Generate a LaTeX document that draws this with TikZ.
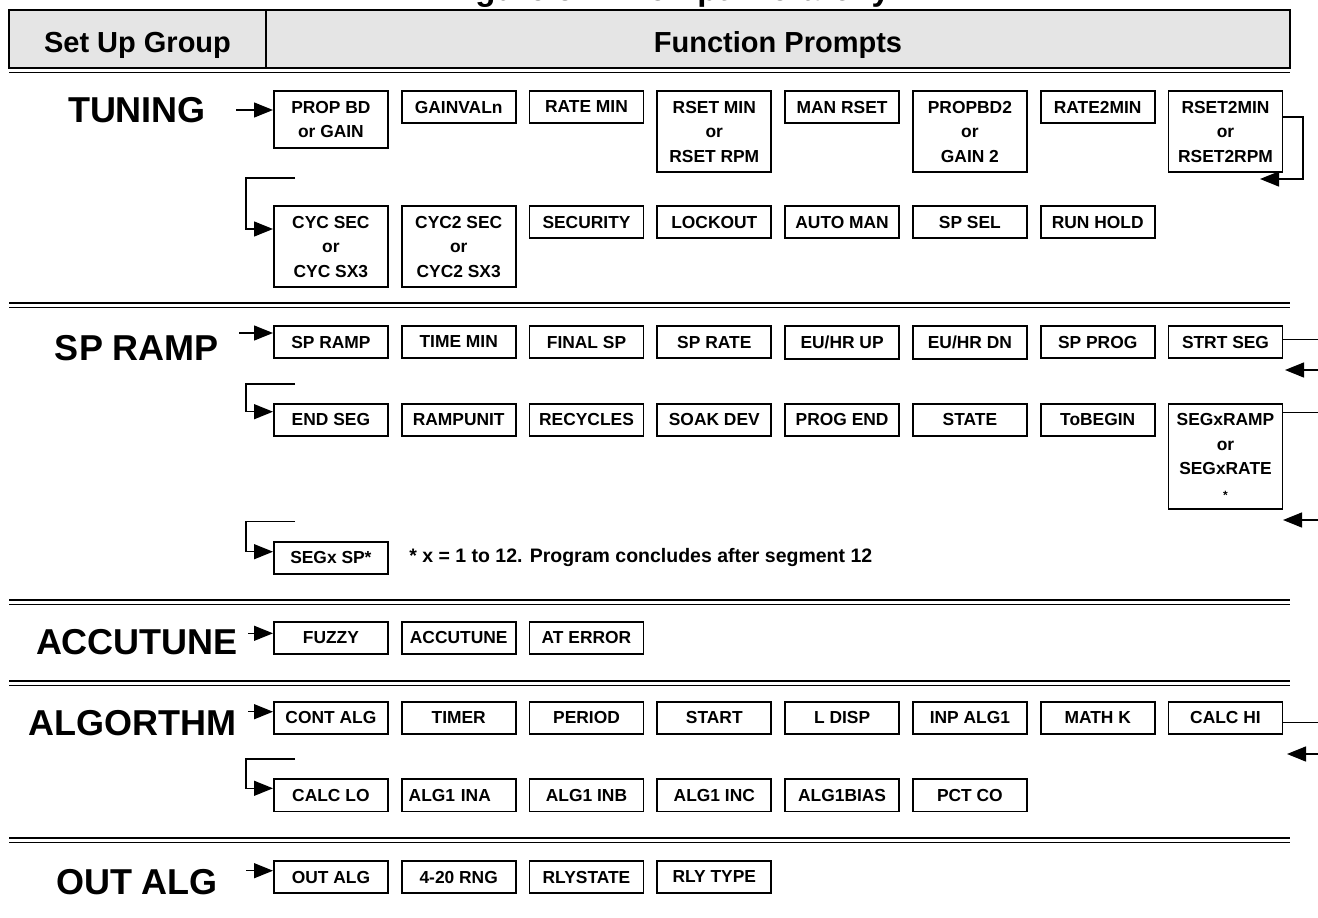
\documentclass[tikz,border=0pt]{standalone}
\usepackage{fontspec}
\setmainfont{Liberation Sans}
\usetikzlibrary{arrows.meta, positioning}
\newcommand{\promptfont}{\fontsize{17.4}{24.5}\selectfont\bfseries}
\newcommand{\groupfont}{\fontsize{36}{40}\selectfont\bfseries}
\newcommand{\headfont}{\fontsize{29}{32}\selectfont\bfseries}
\newcommand{\notefont}{\fontsize{19.5}{22}\selectfont\bfseries}
\newcommand{\titlefont}{\fontsize{33}{36}\selectfont\bfseries}
\tikzstyle{prompt} = [draw, line width=1.8pt, minimum width=114pt, minimum height=32pt, inner ysep=10pt, inner xsep=2pt, align=center, font=\promptfont]
\tikzstyle{group} = [font=\groupfont, inner sep=0pt]
\tikzstyle{headcell} = [draw, line width=1.8pt, fill=gray!20, minimum height=58pt, outer sep=0pt, text height=26pt, text depth=0pt, font=\headfont, anchor=north west]
\tikzstyle{flow} = [line width=1.3pt, -{Triangle[length=19pt,width=15pt]}]
\tikzstyle{wire} = [line width=1.3pt]
\tikzset{nextto/.style={right=12pt of #1.north east, anchor=north west}}
\newcommand{\sepline}[1]{%
  \draw [line width=2.2pt] (9,#1) -- (1290,#1);
  \draw [line width=1.3pt] (9,#1+4.5) -- (1290,#1+4.5);}

\begin{document}
\begin{tikzpicture}[x=1pt, y=-1pt]
    \useasboundingbox (0,0) rectangle (1318,918);
    \clip (0,0) rectangle (1318,918);
    \node [anchor=base, font=\titlefont] (title) at (668,0.5) {Figure 5-1 Prompt Hierarchy};
    % header
    \node [headcell, minimum width=257pt] (setup) at (9,10) {Set Up Group};
    \node [headcell, minimum width=1024pt] (prompts) at (setup.north east) {Function Prompts};
    \sepline{68}
    % TUNING
    \node [group] (tuning) at (137,110) {TUNING};
    \node [prompt, anchor=north west] (propbd) at (273,90) {PROP BD\\or GAIN};
    \node [prompt, nextto=propbd] (gainval) {GAINVALn};
    \node [prompt, nextto=gainval] (ratemin) {RATE MIN};
    \node [prompt, nextto=ratemin] (rsetmin) {RSET MIN\\or\\RSET RPM};
    \node [prompt, nextto=rsetmin] (manrset) {MAN RSET};
    \node [prompt, nextto=manrset] (propbd2) {PROPBD2\\or\\GAIN 2};
    \node [prompt, nextto=propbd2] (rate2min) {RATE2MIN};
    \node [prompt, nextto=rate2min] (rset2min) {RSET2MIN\\or\\RSET2RPM};
    \node [prompt, anchor=north west] (cycsec) at (273,205) {CYC SEC\\or\\CYC SX3};
    \node [prompt, nextto=cycsec] (cyc2sec) {CYC2 SEC\\or\\CYC2 SX3};
    \node [prompt, nextto=cyc2sec] (security) {SECURITY};
    \node [prompt, nextto=security] (lockout) {LOCKOUT};
    \node [prompt, nextto=lockout] (automan) {AUTO MAN};
    \node [prompt, nextto=automan] (spsel) {SP SEL};
    \node [prompt, nextto=spsel] (runhold) {RUN HOLD};
    \coordinate (tunin) at (236,110);
    \coordinate (tunr) at (1303,117);
    \coordinate (tunb) at (1260,179);
    \coordinate (tunl) at (295,178);
    \coordinate (tunc) at (246,229);
    \draw [flow] (tunin) -- (propbd.west |- tunin);
    \draw [flow] (rset2min.east |- tunr) -- (tunr) |- (tunb);
    \draw [flow] (tunl) -| (tunc) -- (cycsec.west |- tunc);
    \sepline{303.3}
    % SP RAMP
    \node [group] (spr) at (137,348) {SP RAMP};
    \node [prompt, anchor=north west] (spramp) at (273,325) {SP RAMP};
    \node [prompt, nextto=spramp] (timemin) {TIME MIN};
    \node [prompt, nextto=timemin] (finalsp) {FINAL SP};
    \node [prompt, nextto=finalsp] (sprate) {SP RATE};
    \node [prompt, nextto=sprate] (euhrup) {EU/HR UP};
    \node [prompt, nextto=euhrup] (euhrdn) {EU/HR DN};
    \node [prompt, nextto=euhrdn] (spprog) {SP PROG};
    \node [prompt, nextto=spprog] (strtseg) {STRT SEG};
    \node [prompt, anchor=north west] (endseg) at (273,402.7) {END SEG};
    \node [prompt, nextto=endseg] (rampunit) {RAMPUNIT};
    \node [prompt, nextto=rampunit] (recycles) {RECYCLES};
    \node [prompt, nextto=recycles] (soakdev) {SOAK DEV};
    \node [prompt, nextto=soakdev] (progend) {PROG END};
    \node [prompt, nextto=progend] (state) {STATE};
    \node [prompt, nextto=state] (tobegin) {ToBEGIN};
    \node [prompt, nextto=tobegin] (segxramp) {SEGxRAMP\\or\\SEGxRATE\\{\fontsize{12}{24.5}\selectfont *}};
    \node [prompt, anchor=north west] (segxsp) at (273,540.7) {SEGx SP*};
    \node [font=\notefont, right=17pt of segxsp] (footnote) {* x = 1 to 12. Program concludes after segment 12};
    \coordinate (spin) at (239,333);
    \coordinate (spr1) at (1318,339.3);
    \coordinate (spr2) at (1318,370);
    \coordinate (spr3) at (1285,370);
    \coordinate (spl1) at (295,384);
    \coordinate (spl2) at (246,411.7);
    \coordinate (spr4) at (1318,412.7);
    \coordinate (spr5) at (1318,520);
    \coordinate (spr6) at (1283,520);
    \coordinate (spl3) at (295,521.7);
    \coordinate (spl4) at (246,551.7);
    \draw [flow] (spin) -- (spramp.west |- spin);
    \draw [wire] (strtseg.east |- spr1) -- (spr1);
    \draw [flow] (spr2) -- (spr3);
    \draw [flow] (spl1) -| (spl2) -- (endseg.west |- spl2);
    \draw [wire] (segxramp.east |- spr4) -- (spr4);
    \draw [flow] (spr5) -- (spr6);
    \draw [flow] (spl3) -| (spl4) -- (segxsp.west |- spl4);
    \sepline{600}
    % ACCUTUNE
    \node [group] (acc) at (137,642) {ACCUTUNE};
    \node [prompt, anchor=north west] (fuzzy) at (273,620.7) {FUZZY};
    \node [prompt, nextto=fuzzy] (accutune) {ACCUTUNE};
    \node [prompt, nextto=accutune] (aterror) {AT ERROR};
    \coordinate (accin) at (248,633.3);
    \draw [flow] (accin) -- (fuzzy.west |- accin);
    \sepline{680.7}
    % ALGORTHM
    \node [group] (alg) at (132,723) {ALGORTHM};
    \node [prompt, anchor=north west] (contalg) at (273,700.7) {CONT ALG};
    \node [prompt, nextto=contalg] (timer) {TIMER};
    \node [prompt, nextto=timer] (period) {PERIOD};
    \node [prompt, nextto=period] (start) {START};
    \node [prompt, nextto=start] (ldisp) {L DISP};
    \node [prompt, nextto=ldisp] (inpalg) {INP ALG1};
    \node [prompt, nextto=inpalg] (mathk) {MATH K};
    \node [prompt, nextto=mathk] (calchi) {CALC HI};
    \node [prompt, anchor=north west] (calclo) at (273,778.3) {CALC LO};
    \node [prompt, nextto=calclo, text width=100pt, align=left] (algina) {ALG1 INA};
    \node [prompt, nextto=algina] (alginb) {ALG1 INB};
    \node [prompt, nextto=alginb] (alginc) {ALG1 INC};
    \node [prompt, nextto=alginc] (algbias) {ALG1BIAS};
    \node [prompt, nextto=algbias] (pctco) {PCT CO};
    \coordinate (algin) at (248,711.7);
    \coordinate (alr1) at (1318,722.7);
    \coordinate (alr2) at (1318,754);
    \coordinate (alr3) at (1287,754);
    \coordinate (all1) at (295,759);
    \coordinate (all2) at (246,788.3);
    \draw [flow] (algin) -- (contalg.west |- algin);
    \draw [wire] (calchi.east |- alr1) -- (alr1);
    \draw [flow] (alr2) -- (alr3);
    \draw [flow] (all1) -| (all2) -- (calclo.west |- all2);
    \sepline{838.3}
    % OUT ALG
    \node [group] (out) at (137,882) {OUT ALG};
    \node [prompt, anchor=north west] (outalg) at (273,860) {OUT ALG};
    \node [prompt, nextto=outalg] (rng) {4-20 RNG};
    \node [prompt, nextto=rng] (rlystate) {RLYSTATE};
    \node [prompt, nextto=rlystate] (rlytype) {RLY TYPE};
    \coordinate (outin) at (246,870.7);
    \draw [flow] (outin) -- (outalg.west |- outin);
\end{tikzpicture}
\end{document}
